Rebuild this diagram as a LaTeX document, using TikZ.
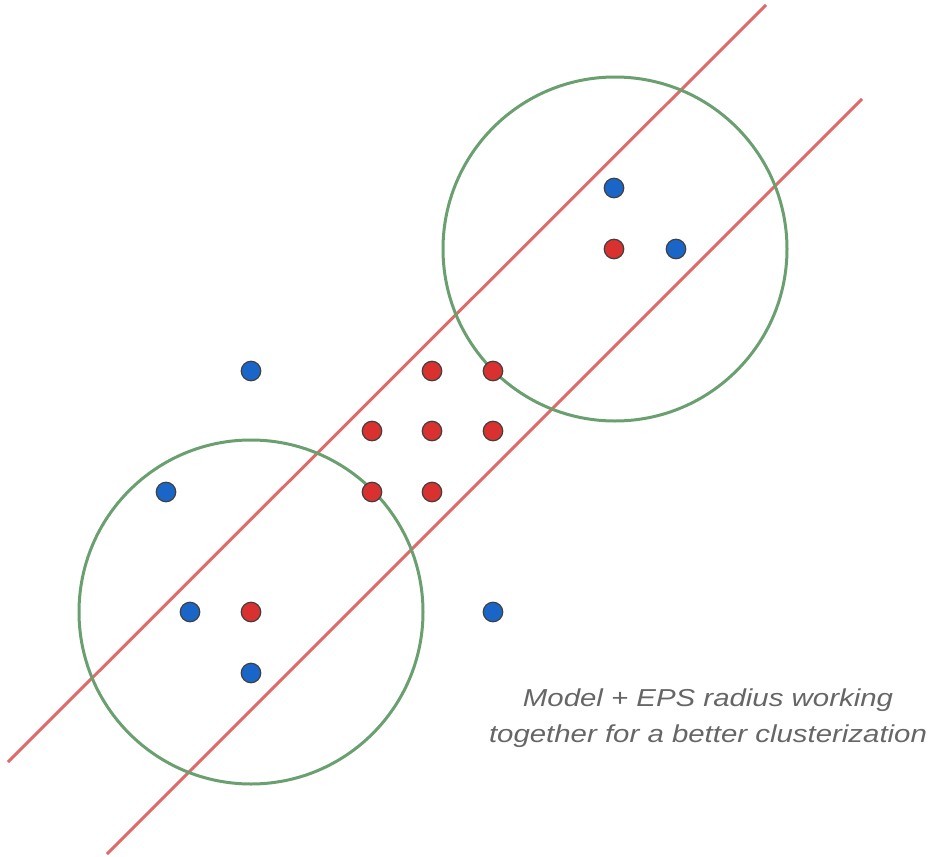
\documentclass[tikz,border=0pt]{standalone}
\usepackage{fontspec}
\setmainfont{Liberation Sans}
\newfontfamily\capfont{Liberation Sans}[FakeStretch=1.2]
\definecolor{bdot}{HTML}{1A66C8}
\definecolor{rdot}{HTML}{D93030}
\definecolor{rline}{HTML}{E06A6A}
\definecolor{gcirc}{HTML}{6AA070}
\definecolor{txt}{HTML}{666666}
\begin{document}
\begin{tikzpicture}[x=1pt,y=-1pt,
  dot/.style={circle,draw=black!75,line width=1.2pt,minimum size=19.5pt,inner sep=0pt},
  bluedot/.style={dot,fill=bdot},
  reddot/.style={dot,fill=rdot},
  bandline/.style={draw=rline,line width=3pt},
  epscircle/.style={draw=gcirc,line width=3pt}]
\useasboundingbox (0,0) rectangle (930,857);
% band lines
\coordinate (l1a) at (766,5);
\coordinate (l1b) at (8,762);
\coordinate (l2a) at (862,99);
\coordinate (l2b) at (107,854);
\draw[bandline] (l1a) -- (l1b);
\draw[bandline] (l2a) -- (l2b);
% eps circles
\draw[epscircle] (615,249) circle (172);
\draw[epscircle] (251,612) circle (172);
% blue points
\node[bluedot] (b1) at (614,188) {};
\node[bluedot] (b2) at (676,249) {};
\node[bluedot] (b3) at (251,371) {};
\node[bluedot] (b4) at (166,492) {};
\node[bluedot] (b5) at (190,612) {};
\node[bluedot] (b6) at (251,673) {};
\node[bluedot] (b7) at (493,612) {};
% red points
\node[reddot] (r1) at (614,249) {};
\node[reddot] (r2) at (432,371) {};
\node[reddot] (r3) at (493,371) {};
\node[reddot] (r4) at (372,431) {};
\node[reddot] (r5) at (432,431) {};
\node[reddot] (r6) at (493,431) {};
\node[reddot] (r7) at (372,492) {};
\node[reddot] (r8) at (432,492) {};
\node[reddot] (r9) at (251,612) {};
% caption
\node[text=txt,font=\capfont\fontsize{24.5}{36}\selectfont\itshape,align=center] (cap) at (708,718)
  {Model + EPS radius working\\together for a better clusterization};
\end{tikzpicture}
\end{document}
